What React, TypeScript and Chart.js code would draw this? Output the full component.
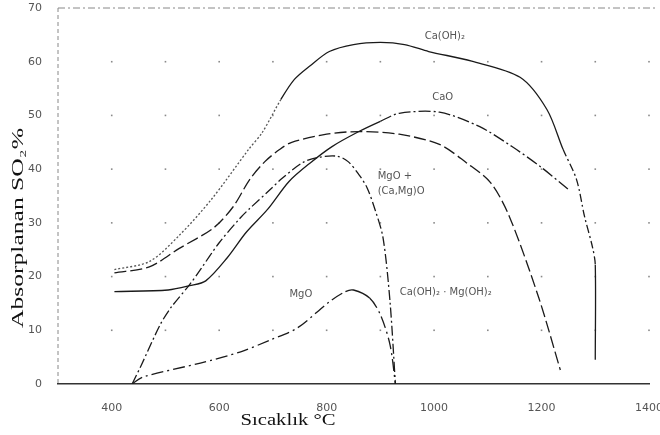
import React, { useEffect, useRef } from 'react';
import { Chart, registerables } from 'chart.js';

Chart.register(...registerables);

// Axis ticks
const xTickValues = [400, 600, 800, 1000, 1200, 1400];
const yTickValues = [0, 10, 20, 30, 40, 50, 60, 70];
const dotTemps = [400, 500, 600, 700, 800, 900, 1000, 1100, 1200, 1300, 1400];
const dotAbs = [10, 20, 30, 40, 50, 60];

// Ca(OH)2
const caOH2Temp = [405, 470, 525, 585, 655, 680, 715, 740, 770, 805, 850, 900, 945, 990, 1070, 1160, 1210, 1240, 1265, 1280, 1295, 1300, 1300];
const caOH2Abs = [21.3, 22.8, 27.6, 34.3, 43.7, 46.8, 53.0, 56.7, 59.3, 61.9, 63.2, 63.6, 63.2, 61.9, 60.1, 57.1, 51.1, 43.7, 38.1, 31.2, 25.4, 22.2, 4.5];

// Ca(OH)2 · Mg(OH)2
const mixTemp = [405, 470, 525, 590, 626, 657, 685, 713, 735, 800, 860, 935, 1010, 1060, 1105, 1140, 1195, 1235];
const mixAbs = [20.7, 21.8, 25.2, 29.1, 33.0, 38.1, 41.4, 43.7, 45.0, 46.5, 47.0, 46.5, 44.6, 41.2, 37.5, 31.2, 16.0, 2.6];

// CaO
const caOTemp = [405, 505, 545, 575, 615, 650, 690, 730, 770, 810, 860, 900, 935, 1010, 1085, 1145, 1200, 1250];
const caOAbs = [17.2, 17.5, 18.3, 19.2, 23.5, 28.2, 32.5, 37.7, 41.2, 44.2, 47.0, 48.9, 50.4, 50.6, 47.9, 44.2, 40.3, 36.2];

// MgO + (Ca,Mg)O
const mgCaOTemp = [438, 455, 490, 510, 545, 565, 600, 640, 655, 695, 715, 755, 785, 820, 840, 860, 875, 890, 905, 918, 928];
const mgCaOAbs = [0, 3.5, 11.0, 14.2, 18.5, 21.3, 26.3, 31.0, 32.5, 36.2, 38.1, 41.2, 42.2, 42.4, 41.4, 39.0, 36.6, 32.5, 27.2, 15.3, 0];

// MgO
const mgOTemp = [438, 458, 565, 640, 695, 745, 805, 835, 850, 880, 900, 918, 928];
const mgOAbs = [0, 1.3, 3.9, 6.0, 8.2, 10.4, 15.3, 17.2, 17.5, 16.0, 12.9, 7.3, 0];

// Curve labels (text, temperature, absorption, alignment)
const curveLabelTexts = ['Ca(OH)₂', 'CaO', 'MgO +', '(Ca,Mg)O', 'MgO', 'Ca(OH)₂ · Mg(OH)₂'];
const curveLabelTemps = [1020, 1016, 895, 895, 752, 936];
const curveLabelAbs = [64.7, 53.4, 38.6, 35.8, 16.6, 17.0];
const curveLabelAlign = ['center', 'center', 'left', 'left', 'center', 'left'];

const yTitle = 'Absorplanan SO₂%';
const xTitle = 'Sıcaklık °C';

const pts = (xs: number[], ys: number[]) => xs.map((x, i) => ({ x, y: ys[i] }));

function stretchedText(ctx: CanvasRenderingContext2D, text: string, cx: number, cy: number, length: number, rotate: boolean) {
  ctx.save();
  ctx.translate(cx, cy);
  if (rotate) ctx.rotate(-Math.PI / 2);
  const w = ctx.measureText(text).width;
  ctx.scale(length / w, 1);
  ctx.textAlign = 'center';
  ctx.textBaseline = 'middle';
  ctx.fillText(text, 0, 0);
  ctx.restore();
}

const decor = {
  id: 'decor',
  beforeDatasetsDraw(chart: any) {
    const { ctx, chartArea: a, scales } = chart;
    const x = scales.x, y = scales.y;
    ctx.save();
    ctx.fillStyle = '#8a8a8a';
    for (const gx of dotTemps) {
      for (const gy of dotAbs) {
        ctx.fillRect(x.getPixelForValue(gx) - 0.8, y.getPixelForValue(gy) - 0.8, 1.6, 1.6);
      }
    }
    ctx.strokeStyle = '#888';
    ctx.lineWidth = 1;
    ctx.setLineDash([7, 3, 2, 3]);
    ctx.beginPath();
    ctx.moveTo(a.left, a.top);
    ctx.lineTo(a.right + 6, a.top);
    ctx.stroke();
    ctx.setLineDash([4, 3]);
    ctx.beginPath();
    ctx.moveTo(a.left, a.top);
    ctx.lineTo(a.left, a.bottom);
    ctx.stroke();
    ctx.restore();
  },
  afterDatasetsDraw(chart: any) {
    const { ctx, scales } = chart;
    const x = scales.x, y = scales.y;
    ctx.save();
    ctx.fillStyle = '#555';
    ctx.font = '10px "DejaVu Sans"';
    ctx.textBaseline = 'middle';
    curveLabelTexts.forEach((t, i) => {
      ctx.textAlign = curveLabelAlign[i] as CanvasTextAlign;
      ctx.fillText(t, x.getPixelForValue(curveLabelTemps[i]), y.getPixelForValue(curveLabelAbs[i]));
    });
    ctx.fillStyle = '#111';
    ctx.font = '16px "Liberation Serif"';
    stretchedText(ctx, yTitle, 19, 228, 200, true);
    stretchedText(ctx, xTitle, 288, 421, 95, false);
    ctx.restore();
  },
};

export default function App() {
  const ref = useRef<HTMLCanvasElement | null>(null);
  useEffect(() => {
    if (!ref.current) return;
    const common = { showLine: true, pointRadius: 0, tension: 0.3, fill: false, borderColor: '#1a1a1a', borderWidth: 1.3 };
    const chart = new Chart(ref.current, {
      type: 'scatter',
      data: {
        datasets: [
          {
            ...common,
            label: 'Ca(OH)₂',
            data: pts(caOH2Temp, caOH2Abs),
            segment: {
              borderDash: (c: any) => (c.p0.parsed.x < 700 ? [2, 2] : c.p0.parsed.x >= 1235 && c.p0.parsed.x < 1299 ? [8, 3, 2, 3] : undefined),
              borderColor: (c: any) => (c.p0.parsed.x < 700 ? '#555' : undefined),
            },
          },
          { ...common, label: 'Ca(OH)₂ · Mg(OH)₂', data: pts(mixTemp, mixAbs), borderDash: [12, 4] },
          {
            ...common,
            label: 'CaO',
            data: pts(caOTemp, caOAbs),
            segment: { borderDash: (c: any) => (c.p0.parsed.x >= 900 ? [12, 3, 2, 3] : undefined) },
          },
          { ...common, label: 'MgO + (Ca,Mg)O', data: pts(mgCaOTemp, mgCaOAbs), borderDash: [10, 3, 2, 3] },
          {
            ...common,
            label: 'MgO',
            data: pts(mgOTemp, mgOAbs),
            segment: { borderDash: (c: any) => (c.p0.parsed.x >= 820 && c.p0.parsed.x < 880 ? undefined : [12, 4, 2, 4]) },
          },
        ],
      },
      options: {
        animation: false,
        responsive: true,
        maintainAspectRatio: false,
        layout: { padding: { top: 8, right: 11, left: 0, bottom: 0 } },
        plugins: { legend: { display: false }, tooltip: { enabled: false }, title: { display: false } },
        scales: {
          x: {
            type: 'linear',
            min: 300,
            max: 1400,
            grid: { display: false },
            border: { display: true, color: '#333', width: 1.5 },
            ticks: { padding: 10, color: '#555', font: { family: 'DejaVu Sans', size: 11 }, callback: (v: any) => String(v) },
            afterBuildTicks: (s: any) => { s.ticks = xTickValues.map((v) => ({ value: v })); },
            afterFit: (s: any) => { s.height = 51; s.paddingRight = 0; s.paddingLeft = 0; },
          },
          y: {
            type: 'linear',
            min: 0,
            max: 70,
            grid: { display: false },
            border: { display: false },
            ticks: { padding: 8, color: '#555', font: { family: 'DejaVu Sans', size: 11 }, callback: (v: any) => String(v) },
            afterBuildTicks: (s: any) => { s.ticks = yTickValues.map((v) => ({ value: v })); },
            afterFit: (s: any) => { s.width = 58; s.paddingTop = 0; s.paddingBottom = 0; },
          },
        },
      },
      plugins: [decor],
    } as any);
    return () => chart.destroy();
  }, []);
  return (
    <div style={{ position: 'fixed', left: 0, top: 0, width: 660, height: 435, background: '#fff' }}>
      <canvas ref={ref} />
    </div>
  );
}
